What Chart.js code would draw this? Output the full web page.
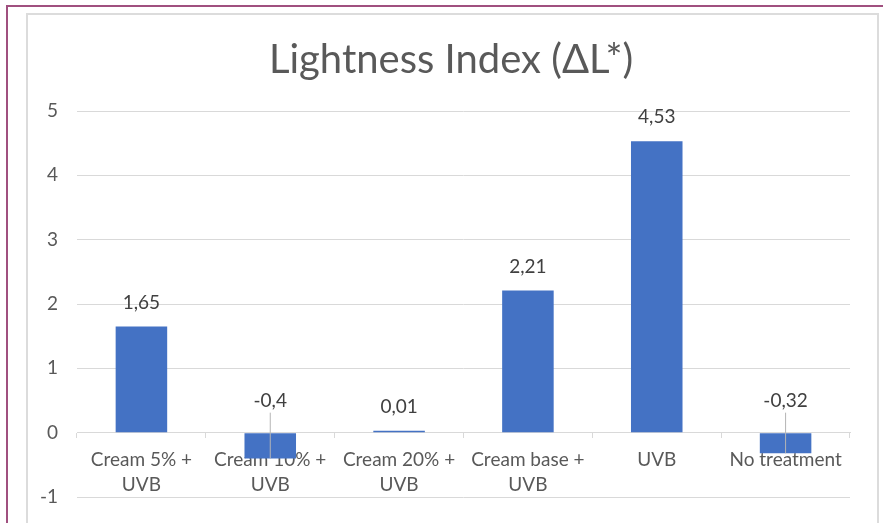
<!DOCTYPE html>
<html>
<head>
<meta charset="utf-8">
<script src="https://cdn.jsdelivr.net/npm/chart.js@4.4.1/dist/chart.umd.min.js"></script>
<style>
  body { margin: 0; background: #fff; overflow: hidden; }
  #outer { position: absolute; left: 6px; top: 5px; width: 900px; height: 540px;
           border-top: 2px solid #a0507f; border-left: 2px solid #a0507f; }
  #inner { position: absolute; left: 26px; top: 13px; width: 849px; height: 540px;
           border: 2px solid #dcdcdc; }
  #myChart { position: absolute; left: 0; top: 0; }
</style>
</head>
<body>
<div id="outer"></div>
<div id="inner"></div>
<canvas id="myChart" width="883" height="523"></canvas>
<script>
// data
var categories = [['Cream 5% +', 'UVB'], ['Cream 10% +', 'UVB'], ['Cream 20% +', 'UVB'], ['Cream base +', 'UVB'], 'UVB', 'No treatment'];
var lightness = [1.65, -0.4, 0.01, 2.21, 4.53, -0.32];
var yTicks = [-1, 0, 1, 2, 3, 4, 5];

var FONT = 'Lato';

// value labels above bars, with a leader line for the negative ones
var valueLabels = {
    id: 'valueLabels',
    afterDatasetsDraw: function(chart) {
        var ctx = chart.ctx;
        var meta = chart.getDatasetMeta(0);
        var zero = chart.scales.y.getPixelForValue(0);
        ctx.save();
        ctx.font = '19px ' + FONT;
        ctx.fillStyle = '#404040';
        ctx.textAlign = 'center';
        ctx.textBaseline = 'middle';
        meta.data.forEach(function(bar, i) {
            var v = lightness[i];
            var txt = String(v).replace('.', ',');
            var ly;
            if (v < 0) {
                ly = zero - 32;
                ctx.strokeStyle = '#b5b5b5';
                ctx.lineWidth = 1;
                ctx.beginPath();
                ctx.moveTo(bar.x, ly + 12);
                ctx.lineTo(bar.x, bar.y);
                ctx.stroke();
            } else {
                ly = bar.y - 24;
            }
            ctx.fillText(txt, bar.x, ly);
        });
        ctx.restore();
    }
};

const ctx = document.getElementById('myChart');
const myChart = new Chart(ctx, {
    type: 'bar',
    data: {
        labels: categories,
        datasets: [{
            data: lightness,
            backgroundColor: '#4472c4',
            borderWidth: 0,
            barPercentage: 0.4,
            categoryPercentage: 1,
            minBarLength: 2
        }]
    },
    plugins: [valueLabels],
    options: {
        responsive: false,
        animation: false,
        layout: { padding: { left: 38, right: 19, top: 14, bottom: 26 } },
        plugins: {
            legend: { display: false },
            tooltip: { enabled: false },
            title: {
                display: true,
                text: 'Lightness Index (ΔL*)',
                color: '#595959',
                font: { family: FONT, size: 40, weight: 'normal', lineHeight: 1.2 },
                padding: { top: 22, bottom: 27 }
            }
        },
        scales: {
            x: {
                position: { y: 0 },
                grid: { drawOnChartArea: false, drawTicks: true, tickLength: 5, color: '#d9d9d9', offset: true },
                border: { display: true, color: '#d9d9d9' },
                ticks: {
                    color: '#595959',
                    font: { family: FONT, size: 19, lineHeight: 1.35 },
                    padding: 9,
                    maxRotation: 0,
                    autoSkip: false
                }
            },
            y: {
                min: -1,
                max: 5,
                afterFit: function(scale) {
                    scale.width = 39;
                    scale.paddingTop = 0;
                    scale.paddingBottom = 0;
                },
                afterBuildTicks: function(scale) {
                    scale.ticks = yTicks.map(function(v) { return { value: v }; });
                },
                grid: { color: '#d9d9d9', drawTicks: false },
                border: { display: false },
                ticks: {
                    color: '#595959',
                    font: { family: FONT, size: 19 },
                    padding: 19
                }
            },
            // empty right axis, only so the title centres on the frame
            yRight: {
                position: 'right',
                grid: { display: false },
                border: { display: false },
                ticks: { display: false },
                afterFit: function(scale) { scale.width = 14; }
            }
        }
    }
});
</script>
</body>
</html>
